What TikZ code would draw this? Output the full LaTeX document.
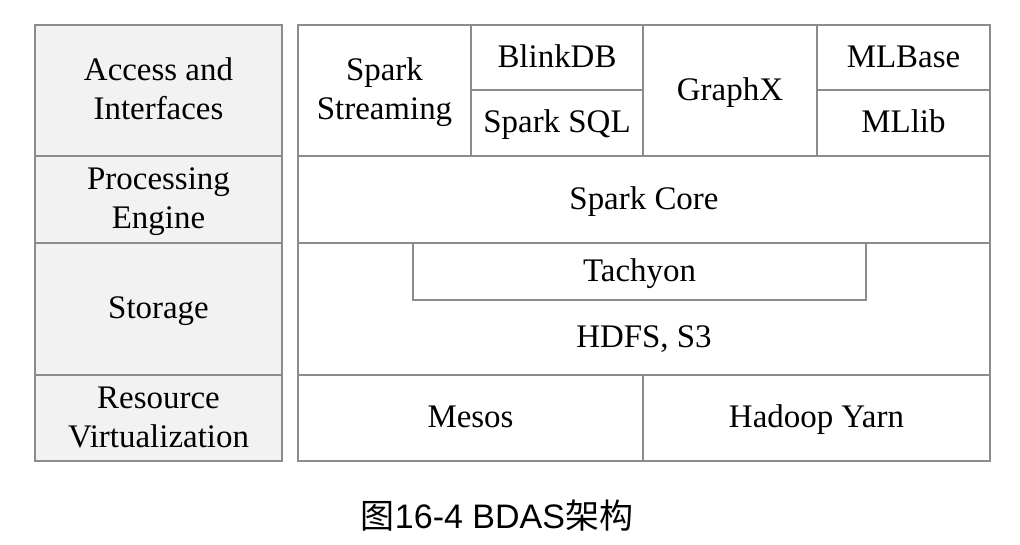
\documentclass[tikz,border=0pt]{standalone}
\usepackage{fontspec}
\setmainfont{Liberation Serif}
\newfontfamily\capsans{Liberation Sans}
\newfontfamily\cjk{Noto Sans CJK SC}
\usetikzlibrary{fit}
\definecolor{linegray}{HTML}{8C8C8C}
\definecolor{cellfill}{HTML}{F2F2F2}
\tikzset{
  cell/.style={draw=linegray, line width=1.5pt, inner sep=0pt},
  lcell/.style={cell, fill=cellfill},
  txt/.style={inner sep=0pt, anchor=base, font=\fontsize{24.7}{29.3}\selectfont}
}
\begin{document}
\begin{tikzpicture}[x=0.75pt, y=-0.75pt]
\useasboundingbox (0,0) rectangle (1020,544);
% left column
\node[lcell, fit={(35,25)(282,156)}] (acc) {};
\node[lcell, fit={(35,156)(282,243)}] (proc) {};
\node[lcell, fit={(35,243)(282,375)}] (stor) {};
\node[lcell, fit={(35,375)(282,461)}] (res) {};
\node[txt] (acct1) at ([yshift=-9.5*0.75pt+19.5*0.75pt]acc.center) {Access and};
\node[txt] (acct2) at ([yshift=-9.5*0.75pt-19.5*0.75pt]acc.center) {Interfaces};
\node[txt] (proct1) at ([yshift=-9.5*0.75pt+19.5*0.75pt]proc.center) {Processing};
\node[txt] (proct2) at ([yshift=-9.5*0.75pt-19.5*0.75pt]proc.center) {Engine};
\node[txt] (stort) at ([yshift=-9.5*0.75pt]stor.center) {Storage};
\node[txt] (rest1) at ([yshift=-9.5*0.75pt+19.5*0.75pt]res.center) {Resource};
\node[txt] (rest2) at ([yshift=-9.5*0.75pt-19.5*0.75pt]res.center) {Virtualization};
% access row
\node[cell, fit={(298,25)(471,156)}] (stream) {};
\node[cell, fit={(471,25)(643,90)}] (blink) {};
\node[cell, fit={(471,90)(643,156)}] (sql) {};
\node[cell, fit={(643,25)(817,156)}] (graphx) {};
\node[cell, fit={(817,25)(990,90)}] (mlbase) {};
\node[cell, fit={(817,90)(990,156)}] (mllib) {};
\node[txt] (streamt1) at ([yshift=-9.5*0.75pt+19.5*0.75pt]stream.center) {Spark};
\node[txt] (streamt2) at ([yshift=-9.5*0.75pt-19.5*0.75pt]stream.center) {Streaming};
\node[txt] (blinkt) at ([yshift=-9.5*0.75pt]blink.center) {BlinkDB};
\node[txt] (sqlt) at ([yshift=-9.5*0.75pt]sql.center) {Spark SQL};
\node[txt] (graphxt) at ([yshift=-9.5*0.75pt]graphx.center) {GraphX};
\node[txt] (mlbaset) at ([yshift=-9.5*0.75pt]mlbase.center) {MLBase};
\node[txt] (mllibt) at ([yshift=-9.5*0.75pt]mllib.center) {MLlib};
% core
\node[cell, fit={(298,156)(990,243)}] (core) {};
\node[txt] (coret) at ([yshift=-9.5*0.75pt]core.center) {Spark Core};
% storage
\node[cell, fit={(298,243)(990,375)}] (storage) {};
\node[cell, fit={(413,243)(866,300)}] (tach) {};
\node[txt] (tacht) at ([yshift=-9.5*0.75pt]tach.center) {Tachyon};
\node[txt] (hdfs) at (644,347) {HDFS, S3};
% resources
\node[cell, fit={(298,375)(643,461)}] (mesos) {};
\node[cell, fit={(643,375)(990,461)}] (yarn) {};
\node[txt] (mesost) at ([yshift=-9.5*0.75pt]mesos.center) {Mesos};
\node[txt] (yarnt) at ([yshift=-9.5*0.75pt]yarn.center) {Hadoop Yarn};
% caption
\node[inner sep=0pt, font=\fontsize{25.5}{30}\selectfont] (cap) at (497,516)
  {{\cjk 图}{\capsans 16-4 BDAS}{\cjk 架构}};
\end{tikzpicture}
\end{document}
